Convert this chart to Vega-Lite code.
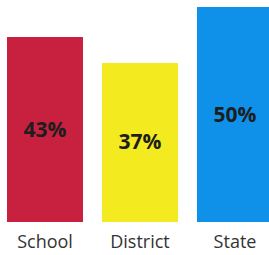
{
  "$schema": "https://vega.github.io/schema/vega-lite/v6.json",
  "width": 269,
  "height": 222,
  "autosize": "none",
  "padding": {"left": 0, "top": 0, "right": 0, "bottom": 33},
  "background": "white",
  "config": {"view": {"stroke": null}},
  "data": {"values": [
    {"group": "School", "value": 43, "label": "43%"},
    {"group": "District", "value": 37, "label": "37%"},
    {"group": "State", "value": 50, "label": "50%"}
  ]},
  "encoding": {
    "x": {
      "field": "group", "type": "nominal", "sort": null,
      "scale": {"range": [7, 273], "paddingInner": 0.2, "paddingOuter": 0},
      "axis": {"title": null, "domain": false, "ticks": false, "labelAngle": 0,
               "labelFont": "Open Sans", "labelFontSize": 18, "labelColor": "#333333",
               "labelPadding": 11}
    }
  },
  "layer": [
    {
      "mark": {"type": "bar"},
      "encoding": {
        "y": {"field": "value", "type": "quantitative",
              "scale": {"domain": [0, 51.63], "nice": false, "zero": true}, "axis": null},
        "color": {"field": "group", "type": "nominal", "legend": null,
                  "scale": {"domain": ["School", "District", "State"],
                            "range": ["#c8203f", "#f3eb1f", "#0f91ea"]}}
      }
    },
    {
      "mark": {"type": "text", "font": "Open Sans", "fontWeight": "bold", "fontSize": 21,
               "color": "#1e1e1e", "baseline": "middle", "dy": 1},
      "encoding": {
        "y": {"field": "value", "type": "quantitative",
              "scale": {"domain": [0, 103.26], "nice": false, "zero": true}, "axis": null},
        "text": {"field": "label"}
      }
    }
  ],
  "resolve": {"scale": {"y": "independent"}}
}
